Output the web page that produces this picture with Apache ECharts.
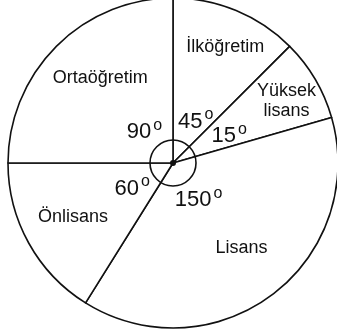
<!DOCTYPE html>
<html lang="tr">
<head>
    <meta charset="UTF-8">
    <title>Pasta grafik</title>
    <script src="https://cdn.jsdelivr.net/npm/echarts@6/dist/echarts.min.js"></script>
    <style>
        body{ margin:0; background-color:#ffffff }
        #main{ width:337px; height:335px }
    </style>
</head>
<body>
<div id="main"></div>
<script type="text/javascript">
    // slices from the top going clockwise
    var categories = ['İlköğretim', 'Yüksek lisans', 'Lisans', 'Önlisans', 'Ortaöğretim'];
    // angles as drawn in the picture (the picture is not to scale)
    var drawnAngles = [45, 29, 138, 58, 90];
    // angles written on the picture
    var degreeLabels = [45, 15, 150, 60, 90];

    // label nudges [dx, dy] per slice
    var nameNudge = [[8, -9], [14, -3], [-1, -7], [1, -2], [9, -3]];
    var degNudge = [[4, 4], [14, -2], [-4, -2], [2, 2], [6, 4]];

    var center = [173, 163];
    var black = '#111';

    var sliceData = [];
    var degData = [];
    for (var i in categories) {
        sliceData.push({name: categories[i], value: drawnAngles[i]});
        degData.push({name: categories[i], value: drawnAngles[i], deg: degreeLabels[i]});
    }

    var myChart = echarts.init(document.getElementById('main'));
    var option = {
        animation: false,
        backgroundColor: '#ffffff',
        series: [
            {   // main pie
                type: 'pie',
                center: center,
                radius: [0, 165],
                startAngle: 90,
                clockwise: true,
                silent: true,
                label: {show: false},
                labelLine: {show: false},
                itemStyle: {color: '#ffffff', borderColor: black, borderWidth: 1.6},
                data: sliceData
            },
            {   // category names
                type: 'pie',
                center: center,
                radius: [60, 165],
                startAngle: 90,
                clockwise: true,
                silent: true,
                avoidLabelOverlap: false,
                itemStyle: {color: 'rgba(0,0,0,0)', borderWidth: 0},
                labelLine: {show: false},
                label: {
                    show: true,
                    position: 'inside',
                    formatter: function (p) { return p.name.replace(' ', '\n'); },
                    fontFamily: 'Liberation Sans',
                    fontSize: 18,
                    lineHeight: 20,
                    color: black
                },
                labelLayout: function (p) {
                    return {dx: nameNudge[p.dataIndex][0], dy: nameNudge[p.dataIndex][1]};
                },
                data: sliceData
            },
            {   // degree values
                type: 'pie',
                center: center,
                radius: [0, 92],
                startAngle: 90,
                clockwise: true,
                silent: true,
                avoidLabelOverlap: false,
                itemStyle: {color: 'rgba(0,0,0,0)', borderWidth: 0},
                labelLine: {show: false},
                label: {
                    show: true,
                    position: 'inside',
                    formatter: function (p) { return '{v|' + p.data.deg + '}{d|o}'; },
                    rich: {
                        v: {fontFamily: 'Liberation Sans', fontSize: 22, lineHeight: 30, color: black},
                        d: {fontFamily: 'Liberation Sans', fontSize: 16, lineHeight: 16, color: black,
                            verticalAlign: 'top', padding: [0, 0, 0, 2]}
                    }
                },
                labelLayout: function (p) {
                    return {dx: degNudge[p.dataIndex][0], dy: degNudge[p.dataIndex][1]};
                },
                data: degData
            },
            {   // small angle circle
                type: 'pie',
                center: center,
                radius: [0, 23],
                silent: true,
                label: {show: false},
                labelLine: {show: false},
                itemStyle: {color: 'rgba(0,0,0,0)', borderColor: black, borderWidth: 1.6},
                data: [1]
            },
            {   // centre dot
                type: 'pie',
                center: center,
                radius: [0, 3],
                silent: true,
                label: {show: false},
                labelLine: {show: false},
                itemStyle: {color: black},
                data: [1]
            }
        ]
    };
    myChart.setOption(option);
</script>
</body>
</html>
